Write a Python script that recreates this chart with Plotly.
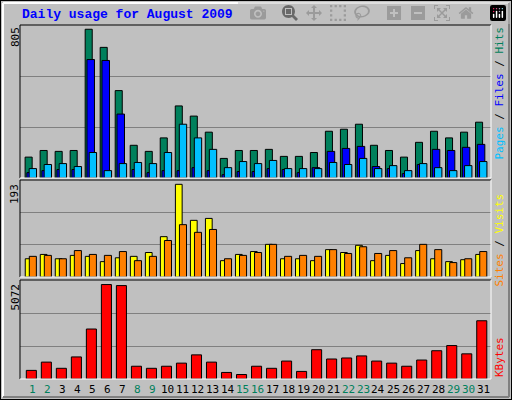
import plotly.graph_objects as go

days = list(range(1, 32))
hits = [113, 149, 144, 149, 805, 707, 473, 177, 144, 217, 390, 335, 248, 106, 149, 149,
        155, 117, 117, 138, 253, 264, 291, 177, 149, 113, 193, 253, 217, 248, 302]
files = [29, 40, 46, 46, 641, 636, 346, 46, 29, 40, 40, 56, 40, 18, 35, 35,
         51, 46, 29, 56, 144, 160, 171, 62, 51, 24, 73, 155, 149, 166, 182]
pages = [51, 73, 78, 62, 138, 40, 78, 84, 78, 138, 291, 217, 155, 56, 89, 78,
         95, 51, 51, 51, 84, 73, 106, 51, 67, 40, 78, 56, 40, 67, 89]
visits = [38, 47, 38, 45, 43, 32, 40, 43, 51, 84, 193, 118, 122, 34, 47, 53,
          68, 38, 38, 34, 57, 51, 66, 34, 45, 28, 55, 38, 32, 36, 47]
sites = [43, 45, 38, 55, 47, 45, 53, 34, 43, 76, 109, 93, 99, 38, 45, 51,
         68, 43, 45, 43, 57, 49, 63, 49, 55, 40, 68, 57, 30, 38, 53]
kbytes = [463, 907, 574, 1185, 2684, 5072, 5016, 685, 574, 685, 852, 1296, 907, 352, 241, 685,
          574, 963, 407, 1573, 1074, 1129, 1240, 963, 852, 685, 1018, 1518, 1796, 1351, 3128]
weekend = [1, 2, 8, 9, 15, 16, 22, 23, 29, 30]

fig = go.Figure()
line = dict(color="black", width=1)

def bars(vals, color, off, w, ax):
    fig.add_trace(go.Bar(x=days, y=vals, marker=dict(color=color, line=line),
                         offset=off, width=w, xaxis="x" + ax, yaxis="y" + ax))

bars(hits, "#00805C", -0.36, 0.47, "")
bars(files, "#0000FF", -0.24, 0.5, "")
bars(pages, "#00C0FF", -0.09, 0.49, "")
bars(visits, "#FFFF00", -0.35, 0.45, "2")
bars(sites, "#FF8000", -0.08, 0.47, "2")
bars(kbytes, "#FF0000", -0.28, 0.67, "3")

xr = [0.3, 31.67]
xdom = [20 / 512, 491 / 512]
common_x = dict(range=xr, domain=xdom, showticklabels=False, showgrid=False,
                zeroline=False, fixedrange=True)
grid = dict(showgrid=True, gridcolor="#808080", gridwidth=1, showticklabels=False,
            zeroline=False, tick0=0)

fig.update_layout(
    width=512, height=400, margin=dict(l=0, r=0, t=0, b=0),
    paper_bgcolor="#C0C0C0", plot_bgcolor="#C0C0C0",
    barmode="overlay", showlegend=False,
    xaxis=dict(**common_x, anchor="y"),
    xaxis2=dict(**common_x, anchor="y2"),
    xaxis3=dict(**common_x, anchor="y3"),
    yaxis=dict(**grid, domain=[0.555, 0.9375], range=[0, 828], dtick=276, anchor="x"),
    yaxis2=dict(**grid, domain=[0.3075, 0.55], range=[0, 202], dtick=202 / 3, anchor="x2"),
    yaxis3=dict(**grid, domain=[0.0525, 0.30], range=[0, 5316], dtick=5316 / 3, anchor="x3"),
)

mono = "DejaVu Sans Mono"
ann = [
    dict(text="<b>Daily usage for August 2009</b>", x=20 / 512, y=1 - 15 / 400,
         xanchor="left", yanchor="middle", font=dict(family="Liberation Mono", size=13, color="#0000FF")),
    dict(text="805", x=15 / 512, y=1 - 25 / 400, textangle=-90, xanchor="center", yanchor="top"),
    dict(text="193", x=15 / 512, y=0.55 - 0.005, textangle=-90, xanchor="center", yanchor="top"),
    dict(text="5072", x=15 / 512, y=0.30 - 0.005, textangle=-90, xanchor="center", yanchor="top"),
    dict(text="<span style='color:#00C0FF'>Pages</span> / <span style='color:#0000FF'>Files</span>"
              " / <span style='color:#00805C'>Hits</span>",
         x=499 / 512, y=1 - 25 / 400, textangle=-90, xanchor="center", yanchor="top"),
    dict(text="<span style='color:#FF8000'>Sites</span> / <span style='color:#FFFF00'>Visits</span>",
         x=499 / 512, y=0.55 - 0.03, textangle=-90, xanchor="center", yanchor="top"),
    dict(text="<span style='color:#FF0000'>KBytes</span>",
         x=499 / 512, y=0.0525, textangle=-90, xanchor="center", yanchor="bottom"),
]
for a in ann:
    a.setdefault("font", dict(family=mono, size=11, color="black"))
    a.update(xref="paper", yref="paper", showarrow=False)
for d in days:
    ann.append(dict(text=str(d), x=d + 0.15, y=1 - 389 / 400, xref="x3", yref="paper",
                    showarrow=False, yanchor="middle",
                    font=dict(family=mono, size=11, color="#00805C" if d in weekend else "black")))
fig.update_layout(annotations=ann)

shapes = [
    dict(type="rect", x0=0, y0=0, x1=1, y1=1, line=dict(color="black", width=2)),
    dict(type="line", x0=3 / 512, y0=1 - 3 / 400, x1=509 / 512, y1=1 - 3 / 400, line=dict(color="white", width=2)),
    dict(type="line", x0=3 / 512, y0=3 / 400, x1=3 / 512, y1=1 - 3 / 400, line=dict(color="white", width=2)),
    dict(type="line", x0=3 / 512, y0=3 / 400, x1=509 / 512, y1=3 / 400, line=dict(color="#808080", width=2)),
    dict(type="line", x0=509 / 512, y0=3 / 400, x1=509 / 512, y1=1 - 3 / 400, line=dict(color="#808080", width=2)),
]
for lo, hi in [(0.555, 0.9375), (0.3075, 0.55), (0.0525, 0.30)]:
    shapes += [
        dict(type="line", x0=xdom[0], x1=xdom[1], y0=hi, y1=hi, line=dict(color="black", width=1)),
        dict(type="line", x0=xdom[0], x1=xdom[0], y0=lo, y1=hi, line=dict(color="black", width=1)),
        dict(type="line", x0=xdom[0], x1=xdom[1], y0=lo, y1=lo, line=dict(color="white", width=1)),
        dict(type="line", x0=xdom[1], x1=xdom[1], y0=lo, y1=hi, line=dict(color="white", width=1)),
    ]
for s in shapes:
    s.update(xref="paper", yref="paper")
fig.update_layout(shapes=shapes)

fig.write_html("out.html",
               post_script="document.body.style.margin='0';document.body.style.overflow='hidden';")
